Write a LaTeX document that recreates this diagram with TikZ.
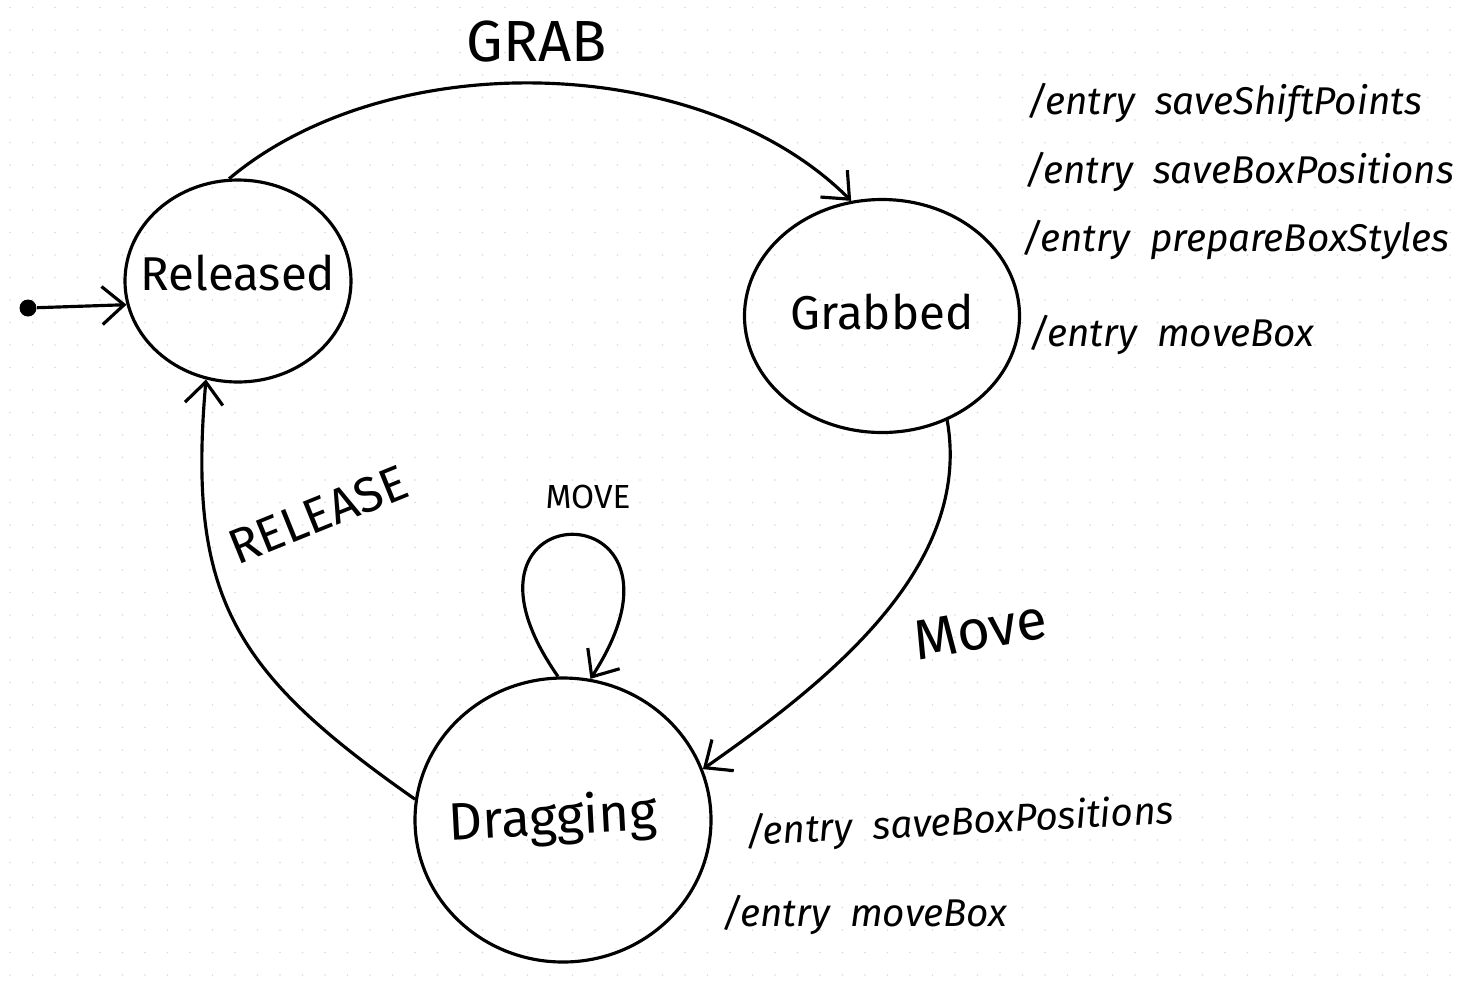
\documentclass[tikz,border=0pt]{standalone}
\usepackage{fontspec}
\setsansfont{Fira Sans}
\usetikzlibrary{arrows.meta,shapes.geometric}
\tikzset{tr/.style={-{Straight Barb[length=2.2mm,width=3.8mm]}, line width=0.9pt},
  st/.style={draw, ellipse, line width=0.9pt, inner sep=0pt},
  stlbl/.style={font=\sffamily\fontsize{13.5}{16}\selectfont},
  act/.style={anchor=west, font=\sffamily\itshape\fontsize{11}{13}\selectfont},
  evt/.style={font=\sffamily\fontsize{16}{18}\selectfont}}

\begin{document}
\begin{tikzpicture}[font=\sffamily]
  \useasboundingbox (0,0) rectangle (14.67,9.8);
  % dotted paper
  \foreach \i in {0,...,65} \foreach \j in {0,...,43}
    \fill[black!15] (0.1+0.225*\i,0.05+0.225*\j) circle (0.009);
  % states
  \node[st, minimum width=2.26cm, minimum height=2.02cm,
    label={[stlbl, yshift=0.08cm]center:Released}] (rel) at (2.38,6.99) {};
  \node[st, minimum width=2.75cm, minimum height=2.33cm,
    label={[stlbl, yshift=0.04cm]center:Grabbed}] (grab) at (8.82,6.64) {};
  \node[st, minimum width=2.96cm, minimum height=2.84cm,
    label={[stlbl, font=\sffamily\fontsize{15}{17}\selectfont, xshift=-0.1cm, rotate=3]center:Dragging}] (drag) at (5.63,1.60) {};
  \node[fill, circle, inner sep=0pt, minimum size=1.7mm] (init) at (0.28,6.72) {};
  % transitions
  \draw[tr] (init) -- (rel.192);
  \draw[tr] (rel.95) .. controls +(40:2.1) and +(135:2.1) .. (grab.105);
  \draw[tr] (grab.302) .. controls +(-80:1.5) and +(35:1.5) .. (drag.20);
  \draw[tr] (drag.172) .. controls +(145:2.2) and +(-95:2.2) .. (rel.252);
  \draw[tr] (drag.92) .. controls +(125:2.3) and +(57:2.3) .. (drag.79);
  % events
  \node[evt, font=\sffamily\fontsize{16.5}{18}\selectfont] (lgrab) at (5.37,9.38) {GRAB};
  \node[evt, rotate=10] (lmove) at (9.80,3.50) {Move};
  \node[evt, rotate=22, font=\sffamily\fontsize{14}{16}\selectfont] (lrel) at (3.18,4.65) {RELEASE};
  \node[font=\sffamily\fontsize{9.5}{11}\selectfont] (lloop) at (5.88,4.83) {MOVE};
  % entry actions
  \node[act] (g1) at (10.15,8.77) {/entry\ \ saveShiftPoints};
  \node[act] (g2) at (10.13,8.08) {/entry\ \ saveBoxPositions};
  \node[act] (g3) at (10.10,7.40) {/entry\ \ prepareBoxStyles};
  \node[act] (g4) at (10.17,6.45) {/entry\ \ moveBox};
  \node[act, rotate=3] (d1) at (7.33,1.45) {/entry\ \ saveBoxPositions};
  \node[act] (d2) at (7.10,0.65) {/entry\ \ moveBox};
\end{tikzpicture}
\end{document}
